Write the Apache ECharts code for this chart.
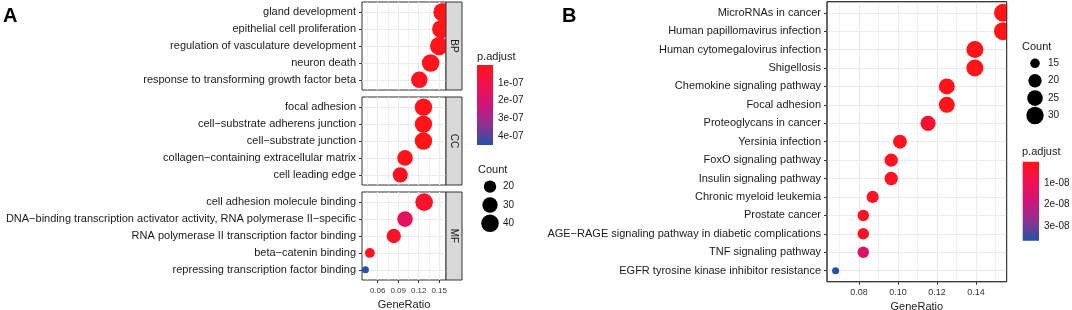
<!DOCTYPE html>
<html>
<head>
<meta charset="utf-8">
<script src="https://cdn.jsdelivr.net/npm/echarts@6/dist/echarts.min.js"></script>
<style>
  html, body { margin: 0; padding: 0; background: #fff; }
  #chart { width: 1072px; height: 310px; }
</style>
</head>
<body>
<div id="chart"></div>
<script>
// ---- panel A : GO enrichment, one block per ontology ----
const bpTerms = ["gland development", "epithelial cell proliferation", "regulation of vasculature development", "neuron death", "response to transforming growth factor beta"];
const bpRatio = [0.155, 0.153, 0.150, 0.1375, 0.121];
const bpCount = [45, 44, 44, 40, 35];
const bpPadj = [1e-10, 3e-10, 2e-9, 5e-9, 2e-8];

const ccTerms = ["focal adhesion", "cell\u2212substrate adherens junction", "cell\u2212substrate junction", "collagen\u2212containing extracellular matrix", "cell leading edge"];
const ccRatio = [0.127, 0.127, 0.127, 0.100, 0.093];
const ccCount = [39, 39, 39, 31, 29];
const ccPadj = [1e-10, 1e-10, 1.2e-10, 3e-9, 1.5e-8];

const mfTerms = ["cell adhesion molecule binding", "DNA\u2212binding transcription activator activity, RNA polymerase II\u2212specific", "RNA polymerase II transcription factor binding", "beta\u2212catenin binding", "repressing transcription factor binding"];
const mfRatio = [0.128, 0.100, 0.0835, 0.0485, 0.042];
const mfCount = [40, 31, 26, 15, 13];
const mfPadj = [4e-8, 1.6e-7, 3e-8, 2e-8, 4.5e-7];

const aFacetNames = ["BP", "CC", "MF"];
const aMajorTicks = [0.06, 0.09, 0.12, 0.15];
const aMinorTicks = [0.045, 0.075, 0.105, 0.135];
const aPadjTicks = [1e-7, 2e-7, 3e-7, 4e-7];
const aPadjLabels = ["1e-07", "2e-07", "3e-07", "4e-07"];
const aCountBreaks = [20, 30, 40];

// ---- panel B : KEGG enrichment ----
const keggTerms = ["MicroRNAs in cancer", "Human papillomavirus infection", "Human cytomegalovirus infection", "Shigellosis", "Chemokine signaling pathway", "Focal adhesion", "Proteoglycans in cancer", "Yersinia infection", "FoxO signaling pathway", "Insulin signaling pathway", "Chronic myeloid leukemia", "Prostate cancer", "AGE\u2212RAGE signaling pathway in diabetic complications", "TNF signaling pathway", "EGFR tyrosine kinase inhibitor resistance"];
const keggRatio = [0.1538, 0.1538, 0.1394, 0.1394, 0.125, 0.125, 0.1154, 0.101, 0.0965, 0.0965, 0.087, 0.0822, 0.0822, 0.0822, 0.068];
const keggCount = [32, 32, 29, 29, 26, 26, 24, 21, 20, 20, 18, 17, 17, 17, 14];
const keggPadj = [1e-12, 2e-12, 1e-11, 2e-11, 1e-10, 1e-10, 4e-9, 1e-9, 1e-9, 1.5e-9, 2e-9, 2e-9, 3e-9, 1.5e-8, 3.7e-8];

const bMajorTicks = [0.08, 0.10, 0.12, 0.14];
const bMinorTicks = [0.07, 0.09, 0.11, 0.13, 0.15];
const bPadjTicks = [1e-8, 2e-8, 3e-8];
const bPadjLabels = ["1e-08", "2e-08", "3e-08"];
const bCountBreaks = [15, 20, 25, 30];

// ---- look ----
const FONT = "Liberation Sans, Arial, sans-serif";
const palette = ["#ff1418", "#f21050", "#d01478", "#8e3290", "#2452a6"];
const gridCol = "#ebebeb";
const frameCol = "#333333";

// ggplot-like area scale: diameter grows with sqrt of rescaled count
function sizeScale(counts, dMin, dMax) {
  const lo = Math.min(...counts), hi = Math.max(...counts);
  return c => dMin + Math.sqrt(Math.max(0, (c - lo) / (hi - lo))) * (dMax - dMin);
}
const aSize = sizeScale(bpCount.concat(ccCount, mfCount), 7, 18.5);
const bSize = sizeScale(keggCount, 7, 18);
const aPmax = Math.max(...bpPadj, ...ccPadj, ...mfPadj);
const bPmax = Math.max(...keggPadj);

const aFacets = [
  [bpTerms, bpRatio, bpCount, bpPadj],
  [ccTerms, ccRatio, ccCount, ccPadj],
  [mfTerms, mfRatio, mfCount, mfPadj]
];
const aTops = [2, 97, 192];
const aLeft = 362, aWidth = 84, aHeight = 88;
const aXmin = 0.037, aXmax = 0.160;
const bLeft = 827, bTop = 1.7, bWidth = 179.7, bHeight = 280;
const bXmin = 0.0636, bXmax = 0.1557;

const range = n => Array.from({ length: n }, (_, i) => i);
const nearestLabel = (ticks, labels) => v => {
  let best = 0;
  ticks.forEach((t, i) => { if (Math.abs(t - v) < Math.abs(ticks[best] - v)) best = i; });
  return labels[best];
};

const grid = [], xAxis = [], yAxis = [], series = [];

function addGrid(box) {
  grid.push(Object.assign({ outerBoundsMode: "none", containLabel: false }, box));
  return grid.length - 1;
}

function termAxis(gi, terms) {
  const idx = range(terms.length);
  return {
    type: "value", gridIndex: gi, inverse: true,
    min: -0.6, max: terms.length - 0.4,
    axisLine: { show: false, onZero: false },
    axisTick: { show: true, customValues: idx, length: 3, lineStyle: { color: frameCol } },
    axisLabel: {
      customValues: idx, margin: 6, fontSize: 11, color: "#1a1a1a", fontFamily: FONT,
      formatter: v => terms[Math.round(v)]
    },
    splitLine: { show: true, lineStyle: { color: gridCol, width: 1.2 } }
  };
}

function ratioAxes(gi, min, max, major, minor, showLabels, fontSize, margin, nameGap) {
  xAxis.push({
    type: "value", gridIndex: gi, min: min, max: max, position: "bottom",
    axisLine: { show: false, onZero: false },
    axisTick: { show: showLabels, customValues: major, length: 3, lineStyle: { color: frameCol } },
    axisLabel: {
      show: showLabels, customValues: major, margin: margin, fontSize: fontSize, color: "#333",
      fontFamily: FONT, formatter: v => v.toFixed(2)
    },
    splitLine: { show: true, lineStyle: { color: gridCol, width: 1.2 } },
    name: showLabels ? "GeneRatio" : "", nameLocation: "middle", nameGap: nameGap,
    nameTextStyle: { fontSize: 11, color: "#1a1a1a", fontFamily: FONT }
  });
  xAxis.push({
    type: "value", gridIndex: gi, min: min, max: max, position: "top",
    axisLine: { show: false, onZero: false },
    axisTick: { show: false, customValues: minor },
    axisLabel: { show: false, customValues: minor },
    splitLine: { show: true, lineStyle: { color: gridCol, width: 0.7 } }
  });
  return xAxis.length - 2;
}

// panel A facets
aFacets.forEach((f, i) => {
  const [terms, ratio, count, padj] = f;
  const gi = addGrid({ left: aLeft, top: aTops[i], width: aWidth, height: aHeight, show: true, borderColor: frameCol, borderWidth: 1, backgroundColor: "#fff" });
  const xi = ratioAxes(gi, aXmin, aXmax, aMajorTicks, aMinorTicks, i === 2, 8, 7, 19.5);
  yAxis.push(termAxis(gi, terms));
  series.push({
    type: "scatter", xAxisIndex: xi, yAxisIndex: yAxis.length - 1,
    data: terms.map((t, k) => [ratio[k], k, count[k], padj[k]]),
    symbolSize: v => aSize(v[2]),
    itemStyle: { opacity: 1 }, clip: false
  });
});

// panel B
const bgi = addGrid({ left: bLeft, top: bTop, width: bWidth, height: bHeight, show: true, borderColor: frameCol, borderWidth: 1, backgroundColor: "#fff" });
const bxi = ratioAxes(bgi, bXmin, bXmax, bMajorTicks, bMinorTicks, true, 9, 6, 17);
yAxis.push(termAxis(bgi, keggTerms));
series.push({
  type: "scatter", xAxisIndex: bxi, yAxisIndex: yAxis.length - 1,
  data: keggTerms.map((t, k) => [keggRatio[k], k, keggCount[k], keggPadj[k]]),
  symbolSize: v => bSize(v[2]),
  itemStyle: { opacity: 1 }, clip: false
});

// colour bars (p.adjust) and size keys (Count)
function colorBar(left, top, width, height, pmax, ticks, labels) {
  const gi = addGrid({ left: left, top: top, width: width, height: height });
  xAxis.push({ type: "category", gridIndex: gi, data: ["p"], show: false });
  const tickStyle = { show: true, inside: true, length: 3, customValues: ticks, lineStyle: { color: "#fff", width: 1 } };
  yAxis.push({
    type: "value", gridIndex: gi, inverse: true, min: 0, max: pmax, position: "right",
    axisLine: { show: false, onZero: false }, splitLine: { show: false },
    axisTick: tickStyle,
    axisLabel: { customValues: ticks, margin: 5, fontSize: 10, color: "#1a1a1a", fontFamily: FONT, formatter: nearestLabel(ticks, labels) }
  });
  yAxis.push({
    type: "value", gridIndex: gi, inverse: true, min: 0, max: pmax, position: "left",
    axisLine: { show: false, onZero: false }, splitLine: { show: false },
    axisTick: tickStyle, axisLabel: { show: false, customValues: ticks }
  });
  series.push({
    type: "bar", xAxisIndex: xAxis.length - 1, yAxisIndex: yAxis.length - 2,
    data: [pmax], barWidth: "100%", silent: true, z: 3,
    itemStyle: {
      color: new echarts.graphic.LinearGradient(0, 0, 0, 1,
        palette.map((c, i) => ({ offset: i / (palette.length - 1), color: c })))
    }
  });
}

function sizeKey(left, top, step, breaks, sizeFn) {
  const gi = addGrid({ left: left, top: top, width: 18, height: step * breaks.length });
  xAxis.push({ type: "category", gridIndex: gi, data: ["c"], show: false });
  yAxis.push({
    type: "category", gridIndex: gi, inverse: true, position: "right",
    data: breaks.map(String),
    axisLine: { show: false }, axisTick: { show: false }, splitLine: { show: false },
    axisLabel: { margin: 4, fontSize: 10, color: "#1a1a1a", fontFamily: FONT }
  });
  series.push({
    type: "scatter", xAxisIndex: xAxis.length - 1, yAxisIndex: yAxis.length - 1,
    data: breaks.map(b => ["c", String(b), b]),
    symbolSize: v => sizeFn(v[2]),
    itemStyle: { color: "#000", opacity: 1 }, silent: true
  });
}

colorBar(477, 65, 16, 80, aPmax, aPadjTicks, aPadjLabels);
sizeKey(481, 177.5, 18.3, aCountBreaks, aSize);
colorBar(1022.7, 161.7, 16.3, 79, bPmax, bPadjTicks, bPadjLabels);
sizeKey(1026, 54.6, 17.4, bCountBreaks, bSize);

// facet strips, B frame over clipped dots
const graphics = [];
aFacetNames.forEach((name, i) => {
  graphics.push({
    type: "rect", z: 100, shape: { x: aLeft + aWidth, y: aTops[i], width: 16, height: aHeight },
    style: { fill: "#d9d9d9", stroke: frameCol, lineWidth: 1 }
  });
  graphics.push({
    type: "text", z: 101, x: aLeft + aWidth + 8, y: aTops[i] + aHeight / 2, rotation: -Math.PI / 2,
    style: { text: name, fontSize: 10, fontFamily: FONT, fill: "#1a1a1a", align: "center", verticalAlign: "middle" }
  });
});
graphics.push({ type: "rect", z: 100, shape: { x: bLeft + bWidth + 0.5, y: 0, width: 12, height: 290 }, style: { fill: "#fff" } });
graphics.push({ type: "rect", z: 101, shape: { x: bLeft, y: bTop, width: bWidth, height: bHeight }, style: { fill: null, stroke: frameCol, lineWidth: 1 } });

const titleStyle = { fontSize: 11, fontWeight: "normal", color: "#1a1a1a", fontFamily: FONT };
const chart = echarts.init(document.getElementById("chart"));
chart.setOption({
  animation: false,
  textStyle: { fontFamily: FONT },
  title: [
    { text: "A", left: 3, top: 6, padding: 0, textStyle: { fontSize: 20, fontWeight: "bold", color: "#000", fontFamily: FONT } },
    { text: "B", left: 562, top: 6, padding: 0, textStyle: { fontSize: 20, fontWeight: "bold", color: "#000", fontFamily: FONT } },
    { text: "p.adjust", left: 477, top: 51, padding: 0, textStyle: titleStyle },
    { text: "Count", left: 478, top: 164, padding: 0, textStyle: titleStyle },
    { text: "Count", left: 1022, top: 41, padding: 0, textStyle: titleStyle },
    { text: "p.adjust", left: 1022, top: 146, padding: 0, textStyle: titleStyle }
  ],
  visualMap: [
    { type: "continuous", show: false, seriesIndex: [0, 1, 2], dimension: 3, min: 0, max: aPmax, inRange: { color: palette } },
    { type: "continuous", show: false, seriesIndex: [3], dimension: 3, min: 0, max: bPmax, inRange: { color: palette } }
  ],
  grid: grid,
  xAxis: xAxis,
  yAxis: yAxis,
  series: series,
  graphic: graphics
});
</script>
</body>
</html>
